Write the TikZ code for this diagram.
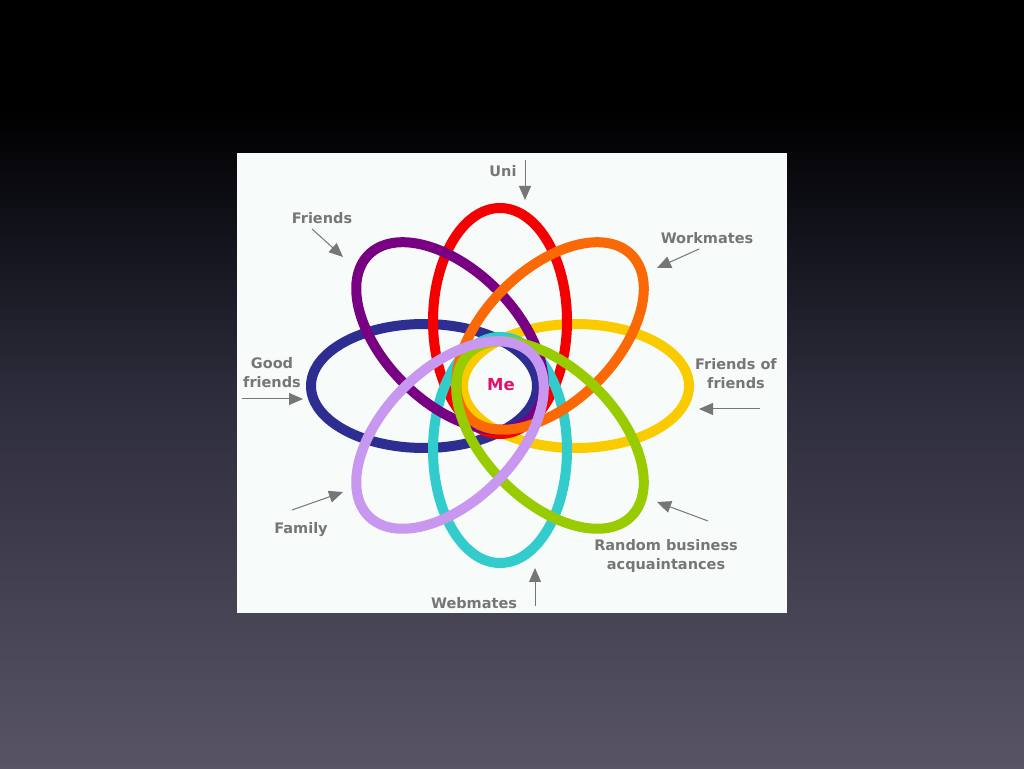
\documentclass[tikz,border=0pt]{standalone}
\usepackage{fontspec}
\setmainfont{DejaVu Sans}
\usetikzlibrary{arrows.meta}
\definecolor{bgbot}{RGB}{88,84,102}
\definecolor{bgmid}{RGB}{46,45,60}
\definecolor{bgdark}{RGB}{20,20,30}
\definecolor{panel}{RGB}{247,251,249}
\definecolor{lblgray}{RGB}{118,118,118}
\definecolor{mecol}{RGB}{226,16,104}
\definecolor{cred}{RGB}{244,0,0}
\definecolor{corange}{RGB}{250,105,5}
\definecolor{cyellow}{RGB}{250,204,0}
\definecolor{clime}{RGB}{153,204,0}
\definecolor{ccyan}{RGB}{51,204,204}
\definecolor{clav}{RGB}{200,152,240}
\definecolor{cblue}{RGB}{46,46,146}
\definecolor{cpurple}{RGB}{120,0,130}
\pgfdeclareverticalshading{bgshade}{100bp}{color(0bp)=(bgbot); color(25bp)=(bgbot); color(49bp)=(bgmid); color(59bp)=(bgdark); color(68bp)=(black); color(100bp)=(black)}
\tikzset{
  ring/.style={line width=10pt},
  lbl/.style={anchor=north, inner sep=0pt, text=lblgray, align=center,
    font=\fontsize{14.5}{19}\selectfont\bfseries},
  arr/.style={draw=lblgray, line width=1pt, -{Triangle[length=14pt,width=12pt]}}
}
\begin{document}
\begin{tikzpicture}[x=1pt,y=1pt]
\useasboundingbox (0,0) rectangle (1024,768);
\shade[shading=bgshade] (0,0) rectangle (1024,768);
\fill[panel] (237,615) rectangle (787,155);

% rings
\draw[ring, cblue]   (424,382) ellipse [x radius=113, y radius=62];
\draw[ring, cyellow] (576,382) ellipse [x radius=113, y radius=62];
\draw[ring, cred]    (500,447) ellipse [x radius=67, y radius=113];
\draw[ring, ccyan]   (500,318) ellipse [x radius=67, y radius=113];
\draw[ring, cpurple, rotate around={-45:(450,432)}] (450,432) ellipse [x radius=115, y radius=66];
\draw[ring, corange, rotate around={45:(550,432)}]  (550,432) ellipse [x radius=115, y radius=66];
\draw[ring, clime, rotate around={-45:(550,333)}]   (550,333) ellipse [x radius=115, y radius=66];
\draw[ring, clav, rotate around={45:(450,333)}]     (450,333) ellipse [x radius=115, y radius=66];

% labels
\node[lbl] (uni) at (503,602.5) {Uni};
\node[lbl] (friends) at (322,555.5) {Friends};
\node[lbl] (work) at (707,535.5) {Workmates};
\node[lbl] (good) at (272,411) {Good\\friends};
\node[lbl] (fof) at (736,410) {Friends of\\friends};
\node[lbl] (family) at (301,245.5) {Family};
\node[lbl] (random) at (666,229) {Random business\\acquaintances};
\node[lbl] (web) at (474,170.5) {Webmates};
\node[anchor=north, inner sep=0pt, text=mecol, font=\fontsize{16.5}{19}\selectfont\bfseries] (me) at (501,390) {Me};

% arrows
\coordinate (uniS) at (525,608);   \coordinate (uniE) at (525,568);
\coordinate (friS) at (312,539);   \coordinate (friE) at (343,511);
\coordinate (wrkS) at (699,519);   \coordinate (wrkE) at (657,500);
\coordinate (gdS)  at (242,369);   \coordinate (gdE)  at (303,369);
\coordinate (fofS) at (760,359);   \coordinate (fofE) at (699,359);
\coordinate (famS) at (292,258);   \coordinate (famE) at (343,276);
\coordinate (rndS) at (708,247);   \coordinate (rndE) at (657,266);
\coordinate (webS) at (535,162);   \coordinate (webE) at (535,200);
\draw[arr] (uniS) -- (uniE);
\draw[arr] (friS) -- (friE);
\draw[arr] (wrkS) -- (wrkE);
\draw[arr] (gdS) -- (gdE);
\draw[arr] (fofS) -- (fofE);
\draw[arr] (famS) -- (famE);
\draw[arr] (rndS) -- (rndE);
\draw[arr] (webS) -- (webE);
\end{tikzpicture}
\end{document}
